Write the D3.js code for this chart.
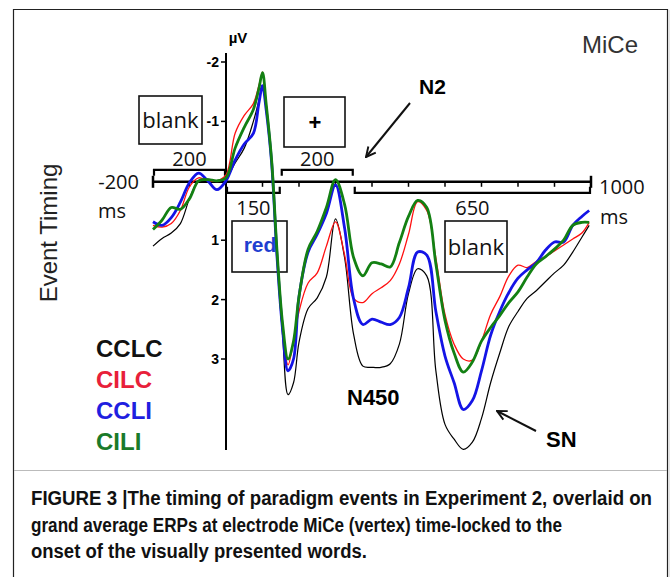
<!DOCTYPE html>
<meta charset="utf-8">
<style>
  body { margin: 0; background: #fff; }
  text { font-family: "Liberation Sans", Arial, sans-serif; }
  .lbl { font-family: "Open Sans", sans-serif; font-size: 20px; fill: #111; }
</style>
<body>
<script src="https://cdn.jsdelivr.net/npm/d3@7"></script>
<script>

// time points (ms) and grand-average values (µV, negative up)
var times = [-200,-175,-150,-125,-100,-75,-50,-25,0,25,50,75,90,100,110,125,140,155,170,185,
  200,225,250,275,300,325,350,375,400,425,450,475,500,525,550,575,600,625,650,675,
  700,725,750,775,800,825,850,875,900,925,950,975,995];

var cclc = [1.1,0.97,0.88,0.72,0.3,0.0,-0.03,0.0,-0.05,-0.3,-0.55,-1.0,-1.35,-1.6,-1.2,-0.3,1.3,2.6,3.6,3.4,
  2.72,2.15,1.97,1.62,0.64,1.3,2.6,3.12,3.14,3.14,3.08,2.75,1.9,1.48,1.6,3.2,4.1,4.35,4.52,4.4,
  4.0,3.4,2.9,2.45,2.2,1.98,1.85,1.7,1.55,1.42,1.2,0.95,0.75];

var cilc = [0.75,0.78,0.72,0.5,0.1,-0.05,0.0,0.0,-0.1,-0.8,-1.1,-1.3,-1.6,-1.83,-1.3,-0.35,1.2,2.45,3.1,2.7,
  2.2,1.72,1.55,1.1,0.69,1.25,1.98,2.05,1.9,1.8,1.68,1.4,0.9,0.35,0.5,1.3,2.25,2.75,3.0,3.02,
  2.7,2.25,1.95,1.6,1.42,1.46,1.36,1.28,1.18,1.08,0.98,0.88,0.7];

var ccli = [0.69,0.75,0.62,0.36,0.03,-0.13,0.0,0.15,0.0,-0.35,-0.62,-0.8,-1.3,-1.6,-1.2,-0.3,1.3,2.5,3.2,3.0,
  1.95,1.2,0.9,0.55,0.07,0.8,2.0,2.42,2.33,2.38,2.42,2.3,1.8,1.2,1.25,2.2,2.95,3.4,3.85,3.7,
  3.2,2.6,2.2,1.88,1.64,1.5,1.38,1.17,1.03,1.03,0.75,0.6,0.5];

var cili = [0.82,0.66,0.45,0.48,0.3,0.0,-0.02,0.0,-0.05,-0.55,-0.9,-1.2,-1.55,-1.82,-1.3,-0.35,1.2,2.4,3.0,2.7,
  1.95,1.15,0.85,0.45,-0.02,0.4,1.3,1.6,1.38,1.4,1.45,1.04,0.6,0.33,0.45,1.4,2.35,2.9,3.22,3.05,
  2.7,2.47,2.27,2.05,1.87,1.62,1.4,1.28,1.15,1.0,0.75,0.7,0.7];

var seriesNames = ["CCLC", "CILC", "CCLI", "CILI"];
var seriesData = [cclc, cilc, ccli, cili];
var lineColors = ["#000000", "#ff1010", "#1414e6", "#138013"];
var legendColors = ["#111111", "#e8203a", "#1f1fe0", "#1a7a2a"];
var lineWidths = [1.2, 1.3, 2.8, 2.8];

var yTicks = [-2, -1, 1, 2, 3];
var xTicks = [-100, 0, 100, 200, 300, 400, 500, 600, 700, 800, 900];

// event timing brackets: [start, end, label, above axis?]
var events = [[-200, 0, "200", true], [0, 150, "150", false], [150, 350, "200", true], [350, 1000, "650", false]];

var captionLines = [
  "FIGURE 3 |The timing of paradigm events in Experiment 2, overlaid on",
  "grand average ERPs at electrode MiCe (vertex) time-locked to the",
  "onset of the visually presented words."
];
var captionWidths = [621, 531, 336];

var width = 671, height = 577;

var svg = d3.select("body").append("svg")
    .attr("width", width)
    .attr("height", height);

var x = d3.scaleLinear().domain([-200, 1000]).range([153, 591]);
var y = d3.scaleLinear().domain([-2, 3]).range([62, 359]);

// frame
svg.append("path")
    .attr("d", "M13.5," + height + "V9.5H667.5V" + height)
    .attr("fill", "none").attr("stroke", "#222").attr("stroke-width", 1.2);
svg.append("line")
    .attr("x1", 669).attr("x2", 669).attr("y1", 10).attr("y2", height)
    .attr("stroke", "#ddd").attr("stroke-width", 1.5);
svg.append("line")
    .attr("x1", 14).attr("x2", 667).attr("y1", 470.5).attr("y2", 470.5)
    .attr("stroke", "#bbb").attr("stroke-width", 1);

// vertical (µV) axis
var x0 = x(0);
svg.append("line")
    .attr("x1", x0).attr("x2", x0)
    .attr("y1", y(-2.15)).attr("y2", y(4.53))
    .attr("stroke", "#000").attr("stroke-width", 2);

svg.selectAll(".ytick").data(yTicks).enter().append("line")
    .attr("x1", x0 - 5).attr("x2", x0)
    .attr("y1", function(d) { return y(d); })
    .attr("y2", function(d) { return y(d); })
    .attr("stroke", "#000").attr("stroke-width", 1.5);

svg.selectAll(".ylab").data(yTicks).enter().append("text")
    .attr("x", x0 - 7)
    .attr("y", function(d) { return y(d) + 5; })
    .attr("text-anchor", "end")
    .style("font-size", "14px").style("font-weight", "bold")
    .text(function(d) { return d; });

svg.append("text")
    .attr("x", 238).attr("y", 43)
    .attr("text-anchor", "middle")
    .style("font-size", "15px").style("font-weight", "bold")
    .text("µV");

// time axis
var y0 = y(0) + 1;
svg.append("line")
    .attr("x1", x(-200)).attr("x2", x(1000))
    .attr("y1", y0).attr("y2", y0)
    .attr("stroke", "#000").attr("stroke-width", 2.5);

svg.selectAll(".xtick").data(xTicks).enter().append("line")
    .attr("x1", function(d) { return x(d); })
    .attr("x2", function(d) { return x(d); })
    .attr("y1", y0).attr("y2", y0 + 5)
    .attr("stroke", "#000").attr("stroke-width", 1.5);

[-200, 1000].forEach(function(t) {
  svg.append("line")
      .attr("x1", x(t)).attr("x2", x(t))
      .attr("y1", y0 - 6).attr("y2", y0 + 6)
      .attr("stroke", "#000").attr("stroke-width", 2.5);
});

// brackets
events.forEach(function(e) {
  var by = e[3] ? y0 - 12 : y0 + 11;
  var dy = e[3] ? 6 : -6;
  var x1 = x(e[0]) + 1, x2 = x(e[1]) - 1;
  svg.append("path")
      .attr("d", "M" + x1 + "," + (by + dy) + "V" + by + "H" + x2 + "V" + (by + dy))
      .attr("fill", "none").attr("stroke", "#000").attr("stroke-width", 2.2);
  svg.append("text")
      .attr("class", "lbl")
      .attr("x", (x(e[0]) + x(e[1])) / 2)
      .attr("y", e[3] ? by - 4 : by + 22)
      .attr("text-anchor", "middle")
      .text(e[2]);
});

svg.append("text").attr("class", "lbl").attr("x", 139).attr("y", 189).attr("text-anchor", "end").text("-200");
svg.append("text").attr("class", "lbl").attr("x", 98).attr("y", 218).text("ms");
svg.append("text").attr("class", "lbl").attr("x", 599).attr("y", 194).text("1000");
svg.append("text").attr("class", "lbl").attr("x", 600).attr("y", 224).text("ms");

// stimulus boxes
function box(x1, x2, y1, y2) {
  svg.append("rect")
      .attr("x", x1).attr("y", y1)
      .attr("width", x2 - x1).attr("height", y2 - y1)
      .attr("fill", "#fff").attr("stroke", "#111").attr("stroke-width", 1.6);
}
box(139, 202, 96, 144);
box(284, 345, 97, 147);
box(232, 287, 221, 272);
box(445, 507, 221, 272);

svg.append("text").attr("class", "lbl").attr("x", 170.5).attr("y", 128)
    .attr("text-anchor", "middle").style("font-size", "22px").text("blank");
svg.append("text").attr("class", "lbl").attr("x", 476).attr("y", 255)
    .attr("text-anchor", "middle").style("font-size", "22px").text("blank");
svg.append("text").attr("x", 315).attr("y", 130)
    .attr("text-anchor", "middle").style("font-size", "22px").style("font-weight", "bold").text("+");
svg.append("text").attr("x", 260).attr("y", 252)
    .attr("text-anchor", "middle").style("font-size", "21px").style("font-weight", "bold")
    .attr("fill", "#1f3fd0").text("red");

// ERP waveforms
var line = d3.line()
    .x(function(d) { return x(d[0]); })
    .y(function(d) { return y(d[1]); })
    .curve(d3.curveCatmullRom.alpha(0.5));

seriesData.forEach(function(vals, i) {
  var pts = times.map(function(t, j) { return [t, vals[j]]; });
  svg.append("path")
      .datum(pts)
      .attr("d", line)
      .attr("fill", "none")
      .attr("stroke", lineColors[i])
      .attr("stroke-width", lineWidths[i])
      .attr("stroke-linejoin", "round");
});

// legend
svg.selectAll(".leg").data(seriesNames).enter().append("text")
    .attr("x", 96)
    .attr("y", function(d, i) { return 357 + i * 31; })
    .style("font-size", "24px").style("font-weight", "bold")
    .attr("fill", function(d, i) { return legendColors[i]; })
    .text(function(d) { return d; });

// labels
svg.append("text")
    .attr("transform", "translate(57,233) rotate(-90)")
    .attr("text-anchor", "middle")
    .style("font-size", "24px").attr("fill", "#222")
    .text("Event Timing");

svg.append("text").attr("x", 582).attr("y", 53)
    .style("font-size", "24px").attr("fill", "#333").text("MiCe");

svg.append("text").attr("x", 419).attr("y", 94)
    .style("font-size", "21px").style("font-weight", "bold").text("N2");
svg.append("text").attr("x", 347).attr("y", 405)
    .style("font-size", "22px").style("font-weight", "bold").text("N450");
svg.append("text").attr("x", 546).attr("y", 447)
    .style("font-size", "22px").style("font-weight", "bold").text("SN");

var defs = svg.append("defs");
defs.append("marker")
    .attr("id", "arr").attr("viewBox", "0 0 10 10")
    .attr("refX", 9).attr("refY", 5)
    .attr("markerWidth", 6).attr("markerHeight", 6)
    .attr("orient", "auto")
  .append("path")
    .attr("d", "M1,1L9,5L1,9")
    .attr("fill", "none").attr("stroke", "#111").attr("stroke-width", 1.6);

svg.append("line")
    .attr("x1", 410).attr("y1", 103).attr("x2", 366).attr("y2", 157)
    .attr("stroke", "#111").attr("stroke-width", 2).attr("marker-end", "url(#arr)");
svg.append("line")
    .attr("x1", 536).attr("y1", 431).attr("x2", 497).attr("y2", 411)
    .attr("stroke", "#111").attr("stroke-width", 2).attr("marker-end", "url(#arr)");

// caption: condensed by a horizontal squeeze
var squeeze = 0.84;
svg.selectAll(".cap").data(captionLines).enter().append("text")
    .attr("transform", function(d, i) {
      return "translate(31," + (505 + i * 26.5) + ") scale(" + squeeze + ",1)";
    })
    .attr("textLength", function(d, i) { return captionWidths[i] / squeeze; })
    .attr("lengthAdjust", "spacingAndGlyphs")
    .style("font-size", "21px").style("font-weight", "bold").attr("fill", "#111")
    .text(function(d) { return d; });

</script>
</body>
